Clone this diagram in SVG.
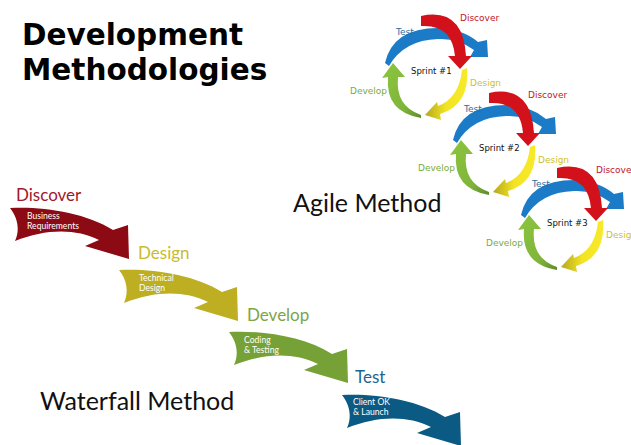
<svg xmlns="http://www.w3.org/2000/svg" xmlns:xlink="http://www.w3.org/1999/xlink" width="631" height="445" viewBox="0 0 631 445">
<style>
.title{font-family:"DejaVu Sans",Verdana,sans-serif;font-weight:bold;font-size:29.5px;fill:#000}
.method{font-family:Lato,"Open Sans",sans-serif;font-size:25px;fill:#111}
.wlab{font-family:Lato,"Open Sans",sans-serif;font-size:17px}
.wsub{font-family:Lato,"Open Sans",sans-serif;font-size:8.6px;fill:#fff}
.slab{font-family:"DejaVu Sans",Verdana,sans-serif;font-size:9px}
.sname{font-family:"DejaVu Sans",Verdana,sans-serif;font-size:8.5px;fill:#111}
</style>
<defs>
<path id="wf" d="M0,0 C30,-2 75,4 103,22 L118,17 L119,51 L75,38 L89,32 C65,20 35,21 5,33 C10,22 8,10 0,0 Z"/>
<linearGradient id="yg" x1="0" y1="0" x2="1" y2="0">
<stop offset="0" stop-color="#b5a81e"/><stop offset="0.5" stop-color="#f3e423"/><stop offset="1" stop-color="#f7ea2a"/>
</linearGradient>
<linearGradient id="gg" x1="0" y1="0" x2="1" y2="1">
<stop offset="0" stop-color="#8cc63f"/><stop offset="0.7" stop-color="#7fb43a"/><stop offset="1" stop-color="#5f8a2a"/>
</linearGradient>
<g id="cycle">
<path fill="#1b7bc6" d="M385,63 Q393,28 438,28 Q463,29 478,42 L487,40 L488,57 L470,57 L474,50 Q458,38 438,39 Q404,40 389,66 Z"/>
<path fill="#d2111b" d="M421,16 Q463,7 466,56 L472,56 L460,69 L448,56 L455,56 Q452,24 421,26 Z"/>
<path fill="url(#yg)" d="M467,68 Q470,105 440,114 L441,120 L425,115 L437,102 L438,106 Q459,98 462,70 Z"/>
<path fill="url(#gg)" d="M421,118 Q385,112 388,77 L382,78 L393,63 L405,77 L398,77 Q395,106 421,115 Z"/>
</g>
</defs>
<rect width="631" height="445" fill="#fff"/>
<g id="title">
<text class="title" x="22" y="45">Development</text>
<text class="title" x="22" y="80">Methodologies</text>
</g>
<g id="sprint1">
<use xlink:href="#cycle"/>
<text class="slab" x="460" y="21" fill="#c4141f">Discover</text>
<text class="slab" x="396" y="35" fill="#2a6ea6">Test</text>
<text class="sname" x="411" y="74">Sprint #1</text>
<text class="slab" x="470" y="86" fill="#cfc21e">Design</text>
<text class="slab" x="350" y="94" fill="#7aab3a">Develop</text>
</g>
<g id="sprint2" transform="translate(68,77)">
<use xlink:href="#cycle"/>
<text class="slab" x="460" y="21" fill="#c4141f">Discover</text>
<text class="slab" x="396" y="35" fill="#2a6ea6">Test</text>
<text class="sname" x="411" y="74">Sprint #2</text>
<text class="slab" x="470" y="86" fill="#cfc21e">Design</text>
<text class="slab" x="350" y="94" fill="#7aab3a">Develop</text>
</g>
<g id="sprint3" transform="translate(136,152)">
<use xlink:href="#cycle"/>
<text class="slab" x="460" y="21" fill="#c4141f">Discover</text>
<text class="slab" x="396" y="35" fill="#2a6ea6">Test</text>
<text class="sname" x="411" y="74">Sprint #3</text>
<text class="slab" x="470" y="86" fill="#cfc21e">Design</text>
<text class="slab" x="350" y="94" fill="#7aab3a">Develop</text>
</g>
<g id="agile-label"><text class="method" x="293" y="212">Agile Method</text></g>
<g id="waterfall-label"><text class="method" x="40" y="410">Waterfall Method</text></g>
<g id="wf-discover">
<use xlink:href="#wf" transform="translate(10,208)" fill="#8c0a14"/>
<text class="wlab" x="16" y="201" fill="#a3172b">Discover</text>
<text class="wsub" x="27" y="219">Business</text>
<text class="wsub" x="27" y="229">Requirements</text>
</g>
<g id="wf-design">
<use xlink:href="#wf" transform="translate(119,270)" fill="#bdae22"/>
<text class="wlab" x="138" y="259" fill="#c9bb2e">Design</text>
<text class="wsub" x="139" y="281">Technical</text>
<text class="wsub" x="139" y="291">Design</text>
</g>
<g id="wf-develop">
<use xlink:href="#wf" transform="translate(229,332)" fill="#76a136"/>
<text class="wlab" x="247" y="321" fill="#7ca545">Develop</text>
<text class="wsub" x="244" y="343">Coding</text>
<text class="wsub" x="244" y="353">&amp; Testing</text>
</g>
<g id="wf-test">
<use xlink:href="#wf" transform="translate(342,395)" fill="#0b5a84"/>
<text class="wlab" x="355" y="383" fill="#1e6590">Test</text>
<text class="wsub" x="353" y="405">Client OK</text>
<text class="wsub" x="353" y="415">&amp; Launch</text>
</g>
</svg>
